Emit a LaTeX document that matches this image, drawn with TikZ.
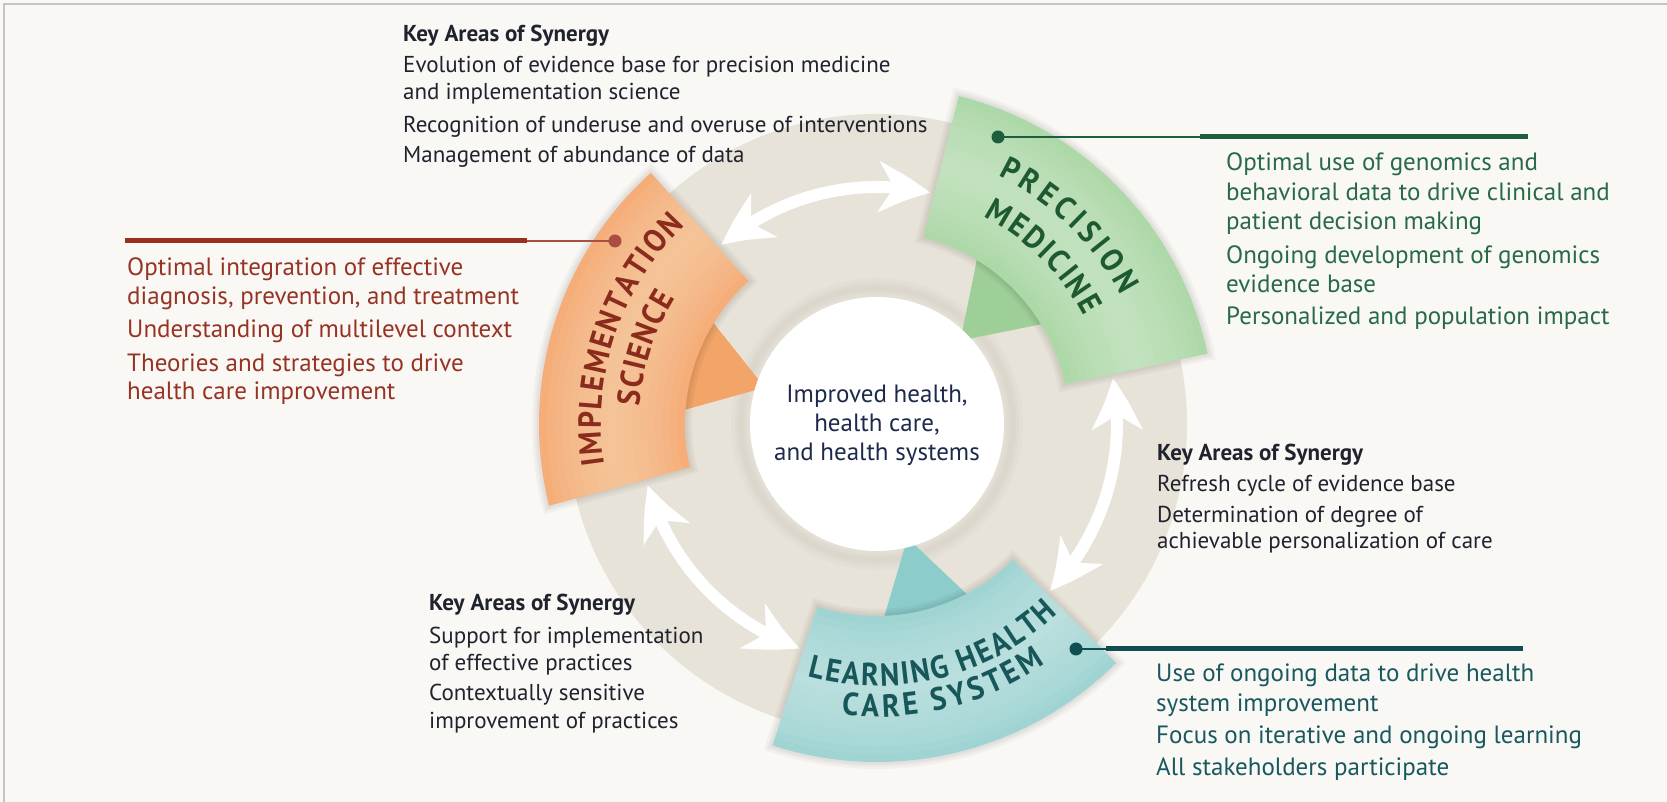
\documentclass[tikz,border=0pt]{standalone}
\usepackage{fontspec}
\setmainfont{PT Sans}
\newfontfamily\labfam[FakeStretch=0.92]{PT Sans}
\usetikzlibrary{calc,arrows.meta,bending,decorations.text}
\definecolor{bg}{HTML}{F9F8F4}
\definecolor{frame}{HTML}{C4C4C4}
\definecolor{ring}{HTML}{E8E3D8}
\definecolor{pmbase}{HTML}{ADD9A8}
\definecolor{pmlight}{HTML}{D2EBCD}
\definecolor{pmdark}{HTML}{9ECF98}
\definecolor{isbase}{HTML}{F5AD79}
\definecolor{islight}{HTML}{FDD3AE}
\definecolor{isdark}{HTML}{F3A468}
\definecolor{lhbase}{HTML}{A0D4D3}
\definecolor{lhlight}{HTML}{CAE9E8}
\definecolor{lhdark}{HTML}{8CCCCB}
\definecolor{pmlab}{HTML}{1D5A32}
\definecolor{islab}{HTML}{8B2B1D}
\definecolor{lhlab}{HTML}{17575A}
\definecolor{syntxt}{HTML}{20222E}
\definecolor{ctrtxt}{HTML}{1E2A4C}
\definecolor{istxt}{HTML}{973324}
\definecolor{pmtxt}{HTML}{286A48}
\definecolor{lhtxt}{HTML}{18585E}
\definecolor{isline}{HTML}{9B2F1F}
\definecolor{pmline}{HTML}{1E5E3E}
\definecolor{lhline}{HTML}{0F4F52}
\newcommand\synfont{\fontsize{23}{27}\selectfont}
\newcommand\colfont{\fontsize{25}{29}\selectfont}
\newcommand\ctrfont{\fontsize{25}{29}\selectfont}
\newcommand\labfont{\labfam\fontsize{32}{32}\selectfont\bfseries}
\tikzset{
  syn/.style={font=\synfont, text=syntxt, anchor=base west, inner sep=0pt},
  synh/.style={syn, font=\synfont\bfseries},
  isT/.style={font=\colfont, text=istxt, anchor=base west, inner sep=0pt},
  pmT/.style={font=\colfont, text=pmtxt, anchor=base west, inner sep=0pt},
  lhT/.style={font=\colfont, text=lhtxt, anchor=base west, inner sep=0pt},
  ctr/.style={font=\ctrfont, text=ctrtxt, anchor=base, inner sep=0pt},
  dotnode/.style={circle, inner sep=0pt, minimum size=13pt},
  warrow/.style={draw=white, line width=12pt,
    {Stealth[length=52pt,width=50pt,inset=15pt,bend]}-{Stealth[length=52pt,width=50pt,inset=15pt,bend]}},
}
\begin{document}
\begin{tikzpicture}[x=1pt,y=1pt]
\useasboundingbox (0,0) rectangle (1667,802);
\fill[bg] (0,0) rectangle (1667,802);
\draw[frame, line width=2pt] (4,0) -- (4,798) -- (1667,798);
\coordinate (C) at (877,378);
% ring
\fill[ring] (C) circle[radius=310pt];
\foreach \w in {20,12,6} \draw[black, opacity=0.015, line width=\w pt] (C) circle[radius=136pt];
% pointers
\fill[pmdark] ($(C)+(45:118pt)$) -- ($(C)+(30:205pt)$) -- ($(C)+(60:205pt)$) -- cycle;
\fill[isdark] ($(C)+(162:118pt)$) -- ($(C)+(147:205pt)$) -- ($(C)+(177:205pt)$) -- cycle;
\fill[lhdark] ($(C)+(285:118pt)$) -- ($(C)+(271:205pt)$) -- ($(C)+(299:205pt)$) -- cycle;
% arrows
\draw[warrow] ($(C)+(131:237pt)$) arc[start angle=131, end angle=77, radius=237pt];
\draw[warrow] ($(C)+(195:237pt)$) arc[start angle=195, end angle=251, radius=237pt];
\draw[warrow] ($(C)+(-44:240pt)$) arc[start angle=-44, end angle=11, radius=240pt];
% green block
\foreach \w in {14,9,5} \draw[black, opacity=0.03, line width=\w pt] ($(C)+(12:192pt)$) arc[start angle=12, end angle=76, radius=192pt] -- ($(C)+(76:338pt)$) arc[start angle=76, end angle=12, radius=338pt] -- cycle;
\fill[pmbase] ($(C)+(12:192pt)$) arc[start angle=12, end angle=76, radius=192pt] -- ($(C)+(76:338pt)$) arc[start angle=76, end angle=12, radius=338pt] -- cycle;
\begin{scope}
\clip ($(C)+(12:192pt)$) arc[start angle=12, end angle=76, radius=192pt] -- ($(C)+(76:338pt)$) arc[start angle=76, end angle=12, radius=338pt] -- cycle;
\foreach \w in {130,115,...,10} \draw[pmlight, line width=\w pt, opacity=0.11] ($(C)+(0:265pt)$) arc[start angle=0, end angle=90, radius=265pt];
\end{scope}
% orange block
\foreach \w in {14,9,5} \draw[black, opacity=0.03, line width=\w pt] ($(C)+(132:192pt)$) arc[start angle=132, end angle=193, radius=192pt] -- ($(C)+(194:338pt)$) arc[start angle=194, end angle=132, radius=338pt] -- cycle;
\fill[isbase] ($(C)+(132:192pt)$) arc[start angle=132, end angle=193, radius=192pt] -- ($(C)+(194:338pt)$) arc[start angle=194, end angle=132, radius=338pt] -- cycle;
\begin{scope}
\clip ($(C)+(132:192pt)$) arc[start angle=132, end angle=193, radius=192pt] -- ($(C)+(194:338pt)$) arc[start angle=194, end angle=132, radius=338pt] -- cycle;
\foreach \w in {130,115,...,10} \draw[islight, line width=\w pt, opacity=0.11] ($(C)+(120:265pt)$) arc[start angle=120, end angle=210, radius=265pt];
\end{scope}
% teal block
\foreach \w in {14,9,5} \draw[black, opacity=0.03, line width=\w pt] ($(C)+(252:192pt)$) arc[start angle=252, end angle=315, radius=192pt] -- ($(C)+(315:338pt)$) arc[start angle=315, end angle=252, radius=338pt] -- cycle;
\fill[lhbase] ($(C)+(252:192pt)$) arc[start angle=252, end angle=315, radius=192pt] -- ($(C)+(315:338pt)$) arc[start angle=315, end angle=252, radius=338pt] -- cycle;
\begin{scope}
\clip ($(C)+(252:192pt)$) arc[start angle=252, end angle=315, radius=192pt] -- ($(C)+(315:338pt)$) arc[start angle=315, end angle=252, radius=338pt] -- cycle;
\foreach \w in {130,115,...,10} \draw[lhlight, line width=\w pt, opacity=0.11] ($(C)+(240:265pt)$) arc[start angle=240, end angle=330, radius=265pt];
\end{scope}
% centre circle
\node[circle, fill=white, minimum size=254pt, inner sep=0pt] (hub) at (C) {};
\node[ctr] (c1) at (877,399) {Improved health,};
\node[ctr] (c2) at (877,370) {health care,};
\node[ctr] (c3) at (877,341) {and health systems};
% block labels
\path[decorate, decoration={text along path, text align={fit to path}, text={|\labfont\color{pmlab}|PRECISION}}]
  ($(C)+(64:276pt)$) arc[start angle=64, end angle=27.8, radius=276pt];
\path[decorate, decoration={text along path, text align={fit to path}, text={|\labfont\color{pmlab}|MEDICINE}}]
  ($(C)+(62.8:233pt)$) arc[start angle=62.8, end angle=27.6, radius=233pt];
\path[decorate, decoration={text along path, text align={fit to path}, text={|\labfont\color{islab}|IMPLEMENTATION}}]
  ($(C)+(188.5:276pt)$) arc[start angle=188.5, end angle=134, radius=276pt];
\path[decorate, decoration={text along path, text align={fit to path}, text={|\labfont\color{islab}|SCIENCE}}]
  ($(C)+(175.7:238pt)$) arc[start angle=175.7, end angle=148, radius=238pt];
\path[decorate, decoration={text along path, text align={fit to path}, text={|\labfont\color{lhlab}|LEARNING HEALTH}}]
  ($(C)+(-105.4:262pt)$) arc[start angle=-105.4, end angle=-46.4, radius=262pt];
\path[decorate, decoration={text along path, text align={fit to path}, text={|\labfont\color{lhlab}|CARE SYSTEM}}]
  ($(C)+(-97:293pt)$) arc[start angle=-97, end angle=-55, radius=293pt];
% leader lines
\node[dotnode, fill=isline!85!white] (isdot) at (615,561) {};
\coordinate (ismid) at (527,561);
\coordinate (isend) at (125,561);
\draw[isline!85!white, line width=2.5pt] (isdot.center) -- (ismid);
\draw[isline, line width=5pt] (ismid) -- (isend);
\node[dotnode, fill=pmline] (pmdot) at (998,665) {};
\coordinate (pmmid) at (1200,665);
\coordinate (pmend) at (1528,665);
\draw[pmline, line width=2.5pt] (pmdot.center) -- (pmmid);
\draw[pmline, line width=5pt] (pmmid) -- (pmend);
\node[dotnode, fill=lhline] (lhdot) at (1076,153) {};
\coordinate (lhmid) at (1106,153);
\coordinate (lhend) at (1523,153);
\draw[lhline, line width=2.5pt] (lhdot.center) -- (lhmid);
\draw[lhline, line width=5pt] (lhmid) -- (lhend);
% top synergy
\node[synh] (a0) at (403,760) {Key Areas of Synergy};
\node[syn] (a1) at (403,729) {Evolution of evidence base for precision medicine};
\node[syn] (a2) at (403,702) {and implementation science};
\node[syn] (a3) at (403,669) {Recognition of underuse and overuse of interventions};
\node[syn] (a4) at (403,639) {Management of abundance of data};
% implementation science text
\node[isT] (b1) at (127,526) {Optimal integration of effective};
\node[isT] (b2) at (127,497) {diagnosis, prevention, and treatment};
\node[isT] (b3) at (127,464) {Understanding of multilevel context};
\node[isT] (b4) at (127,430) {Theories and strategies to drive};
\node[isT] (b5) at (127,402) {health care improvement};
% precision medicine text
\node[pmT] (p1) at (1226,631) {Optimal use of genomics and};
\node[pmT] (p2) at (1226,601.5) {behavioral data to drive clinical and};
\node[pmT] (p3) at (1226,572) {patient decision making};
\node[pmT] (p4) at (1226,538) {Ongoing development of genomics};
\node[pmT] (p5) at (1226,509) {evidence base};
\node[pmT] (p6) at (1226,477) {Personalized and population impact};
% right synergy
\node[synh] (d0) at (1157,341) {Key Areas of Synergy};
\node[syn] (d1) at (1157,310.5) {Refresh cycle of evidence base};
\node[syn] (d2) at (1157,279) {Determination of degree of};
\node[syn] (d3) at (1157,253.5) {achievable personalization of care};
% learning health text
\node[lhT] (e1) at (1156,120.5) {Use of ongoing data to drive health};
\node[lhT] (e2) at (1156,90) {system improvement};
\node[lhT] (e3) at (1156,58) {Focus on iterative and ongoing learning};
\node[lhT] (e4) at (1156,26.5) {All stakeholders participate};
% bottom-left synergy
\node[synh] (f0) at (429,191.5) {Key Areas of Synergy};
\node[syn] (f1) at (429,158.5) {Support for implementation};
\node[syn] (f2) at (429,131.5) {of effective practices};
\node[syn] (f3) at (429,101) {Contextually sensitive};
\node[syn] (f4) at (429,73) {improvement of practices};
\end{tikzpicture}
\end{document}
